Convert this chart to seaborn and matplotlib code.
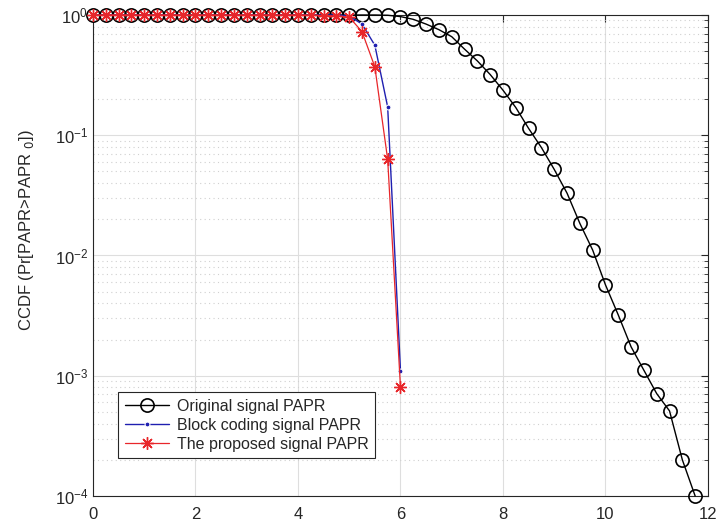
import pandas as pd
import seaborn as sns
import matplotlib.pyplot as plt
from matplotlib.ticker import LogLocator, NullFormatter

sns.set_style('white')
plt.rcParams['font.family'] = ['Liberation Sans', 'DejaVu Sans']

# PAPR0 thresholds (dB)
papr_orig = [0.0, 0.25, 0.5, 0.75, 1.0, 1.25, 1.5, 1.75, 2.0, 2.25, 2.5, 2.75,
             3.0, 3.25, 3.5, 3.75, 4.0, 4.25, 4.5, 4.75, 5.0, 5.25, 5.5, 5.75,
             6.0, 6.25, 6.5, 6.75, 7.0, 7.25, 7.5, 7.75, 8.0, 8.25, 8.5, 8.75,
             9.0, 9.25, 9.5, 9.75, 10.0, 10.25, 10.5, 10.75, 11.0, 11.25, 11.5, 11.75]
ccdf_orig = [1.0, 1.0, 1.0, 1.0, 1.0, 1.0, 1.0, 1.0, 1.0, 1.0, 1.0, 1.0,
             1.0, 1.0, 1.0, 1.0, 1.0, 1.0, 1.0, 1.0, 1.0, 1.0, 1.0, 0.995,
             0.97, 0.92, 0.84, 0.755, 0.66, 0.52, 0.415, 0.32, 0.237, 0.17, 0.114, 0.079,
             0.052, 0.033, 0.0185, 0.0111, 0.0057, 0.0032, 0.00174, 0.00111, 0.00071, 0.00051, 0.0002, 0.0001]

papr_block = [0.0, 0.25, 0.5, 0.75, 1.0, 1.25, 1.5, 1.75, 2.0, 2.25, 2.5, 2.75,
              3.0, 3.25, 3.5, 3.75, 4.0, 4.25, 4.5, 4.75, 5.0, 5.25, 5.5, 5.75, 6.0]
ccdf_block = [1.0, 1.0, 1.0, 1.0, 1.0, 1.0, 1.0, 1.0, 1.0, 1.0, 1.0, 1.0,
              1.0, 1.0, 1.0, 1.0, 1.0, 1.0, 1.0, 1.0, 0.98, 0.84, 0.56, 0.172, 0.0011]

papr_prop = [0.0, 0.25, 0.5, 0.75, 1.0, 1.25, 1.5, 1.75, 2.0, 2.25, 2.5, 2.75,
             3.0, 3.25, 3.5, 3.75, 4.0, 4.25, 4.5, 4.75, 5.0, 5.25, 5.5, 5.75, 6.0]
ccdf_prop = [1.0, 1.0, 1.0, 1.0, 1.0, 1.0, 1.0, 1.0, 1.0, 1.0, 1.0, 1.0,
             1.0, 1.0, 1.0, 1.0, 1.0, 0.995, 0.99, 0.98, 0.96, 0.726, 0.37, 0.063, 0.0008]

df_orig = pd.DataFrame({'papr': papr_orig, 'ccdf': ccdf_orig})
df_block = pd.DataFrame({'papr': papr_block, 'ccdf': ccdf_block})
df_prop = pd.DataFrame({'papr': papr_prop, 'ccdf': ccdf_prop})

fig = plt.figure(figsize=(7.17, 5.28), dpi=100)
ax = fig.add_axes([0.1297, 0.0606, 0.8577, 0.911])

sns.lineplot(ax=ax, data=df_orig, x='papr', y='ccdf', color='black', lw=1.0,
             marker='o', markersize=9.5, markerfacecolor='none', markeredgecolor='black',
             markeredgewidth=1.2, label='Original signal PAPR', clip_on=False, zorder=3)
sns.lineplot(ax=ax, data=df_block, x='papr', y='ccdf', color='#1f1fb0', lw=1.0,
             marker='.', markersize=7, label='Block coding signal PAPR', clip_on=False, zorder=4)
sns.lineplot(ax=ax, data=df_prop, x='papr', y='ccdf', color='#e8262a', lw=0.9,
             marker=(8, 2, 0), markersize=9, markeredgecolor='#e8262a', markeredgewidth=1.0,
             label='The proposed signal PAPR', clip_on=False, zorder=5)

ax.set_yscale('log')
ax.set_xlim(0, 12)
ax.set_ylim(1e-4, 1)
ax.set_xticks([0, 2, 4, 6, 8, 10, 12])
ax.yaxis.set_major_locator(LogLocator(base=10, numticks=10))
ax.yaxis.set_minor_locator(LogLocator(base=10, subs=range(2, 10), numticks=20))
ax.yaxis.set_minor_formatter(NullFormatter())

ax.set_xlabel('')
ax.set_ylabel('CCDF (Pr[PAPR>PAPR $_0$])', fontsize=12, color='#262626')
ax.yaxis.set_label_coords(-0.093, 0.553)

ax.grid(True, which='major', color='#dedede', lw=0.8, ls='-')
ax.grid(True, which='minor', axis='y', color='#d0d0d0', lw=0.8, ls=(0, (1, 3)))
ax.set_axisbelow(True)

for s in ax.spines.values():
    s.set_color('#262626')
    s.set_linewidth(0.8)
    s.set_visible(True)
ax.tick_params(which='both', direction='in', top=True, right=True, colors='#262626',
               labelsize=12)
ax.tick_params(which='major', length=5)
ax.tick_params(which='minor', length=3)
ax.tick_params(axis='x', pad=8)

leg = ax.legend(loc='upper left', bbox_to_anchor=(0.028, 0.232), fontsize=11.5,
                frameon=True, fancybox=False, edgecolor='#262626', handlelength=2.8,
                borderpad=0.4, labelspacing=0.25, handletextpad=0.5)
leg.get_frame().set_linewidth(0.8)
leg.get_frame().set_alpha(1)

plt.savefig('out.png', dpi=100)
plt.close()
